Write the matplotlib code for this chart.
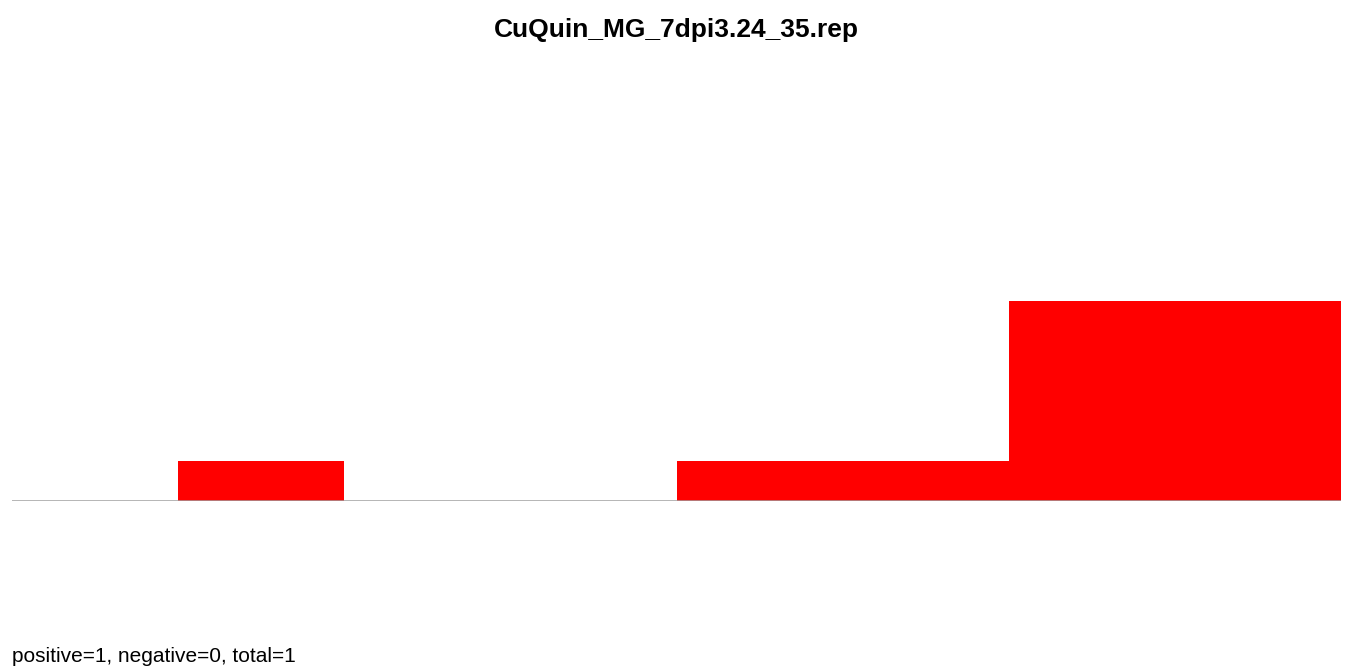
import numpy as np
import matplotlib
matplotlib.use('Agg')
import matplotlib.pyplot as plt

plt.rcParams['font.family'] = ['Liberation Sans', 'DejaVu Sans']

title = 'CuQuin_MG_7dpi3.24_35.rep'
footer = 'positive=1, negative=0, total=1'

# counts per bin, 8 equal-width bins
bins = np.arange(8)
counts = [0, 1, 0, 0, 1, 1, 5, 5]

W, H = 1349, 668
fig = plt.figure(figsize=(W / 100, H / 100), dpi=100)
ax = fig.add_axes([12 / W, 167 / H, (1341 - 12) / W, 400 / H])

ax.bar(bins, counts, width=1.0, align='edge', color='#ff0000', linewidth=0)
ax.axhline(0, color='#a0a0a0', lw=1.8, zorder=3)

ax.set_xlim(0, 8)
ax.set_ylim(0, 10)
ax.axis('off')

fig.text(676 / W, 1 - 37 / H, title, ha='center', va='baseline',
         fontsize=19, fontweight='bold')
fig.text(12 / W, 1 - 662 / H, footer, ha='left', va='baseline', fontsize=15)

fig.savefig('out.png', dpi=100)
